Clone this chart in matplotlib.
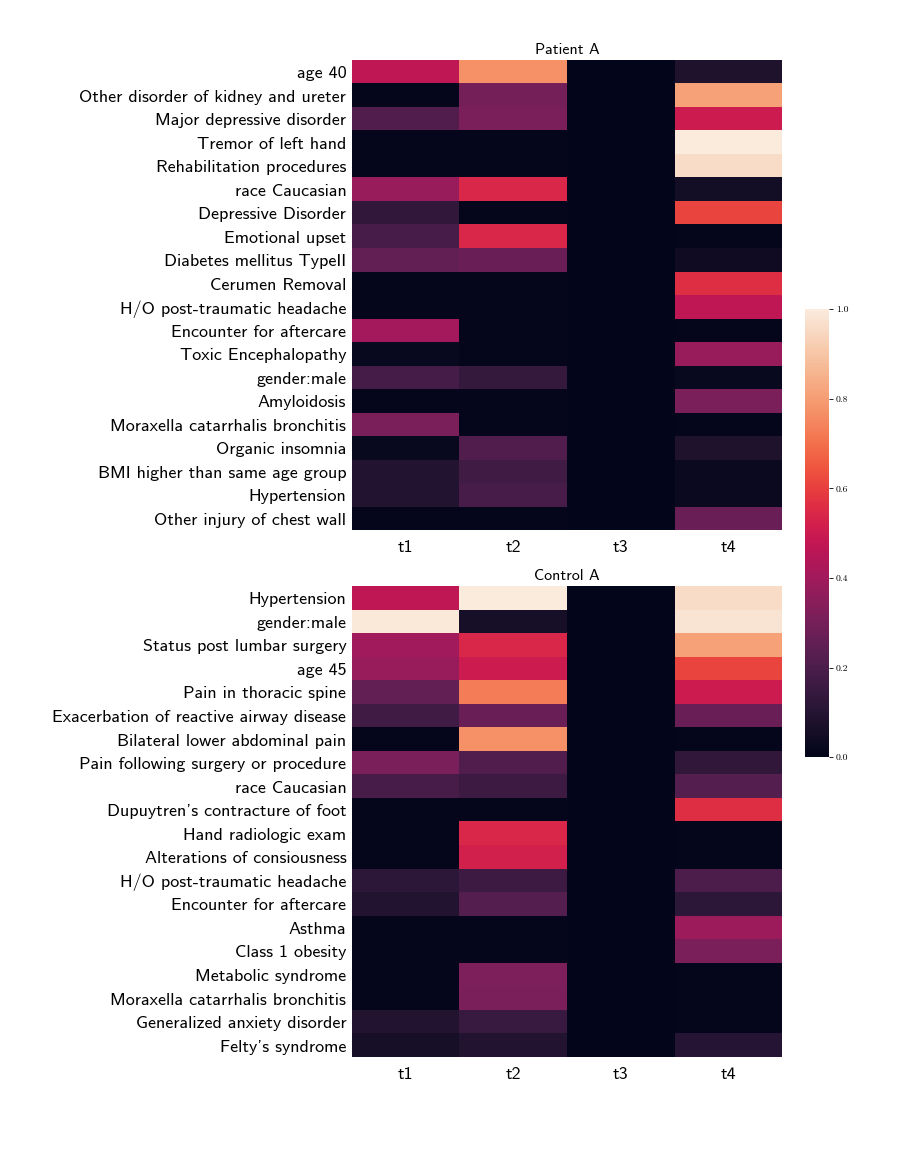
import numpy as np
import matplotlib
matplotlib.use("Agg")
import matplotlib.pyplot as plt
import matplotlib.transforms as mtransforms
import seaborn as sns

times = ["t1", "t2", "t3", "t4"]

patient_labels = [
    "age 40", "Other disorder of kidney and ureter", "Major depressive disorder",
    "Tremor of left hand", "Rehabilitation procedures", "race Caucasian",
    "Depressive Disorder", "Emotional upset", "Diabetes mellitus TypeII",
    "Cerumen Removal", "H/O post-traumatic headache", "Encounter for aftercare",
    "Toxic Encephalopathy", "gender:male", "Amyloidosis",
    "Moraxella catarrhalis bronchitis", "Organic insomnia",
    "BMI higher than same age group", "Hypertension", "Other injury of chest wall",
]
patient_t1 = [0.47, 0.01, 0.21, 0.01, 0.01, 0.38, 0.13, 0.19, 0.25, 0.01,
              0.01, 0.41, 0.02, 0.18, 0.01, 0.31, 0.02, 0.09, 0.09, 0.01]
patient_t2 = [0.77, 0.30, 0.31, 0.01, 0.01, 0.54, 0.01, 0.54, 0.27, 0.01,
              0.01, 0.01, 0.01, 0.14, 0.01, 0.01, 0.21, 0.17, 0.19, 0.01]
patient_t3 = [0.0] * 20
patient_t4 = [0.08, 0.81, 0.50, 1.00, 0.96, 0.05, 0.61, 0.01, 0.04, 0.56,
              0.47, 0.01, 0.38, 0.02, 0.31, 0.01, 0.08, 0.03, 0.03, 0.27]

control_labels = [
    "Hypertension", "gender:male", "Status post lumbar surgery", "age 45",
    "Pain in thoracic spine", "Exacerbation of reactive airway disease",
    "Bilateral lower abdominal pain", "Pain following surgery or procedure",
    "race Caucasian", "Dupuytren's contracture of foot", "Hand radiologic exam",
    "Alterations of consiousness", "H/O post-traumatic headache",
    "Encounter for aftercare", "Asthma", "Class 1 obesity", "Metabolic syndrome",
    "Moraxella catarrhalis bronchitis", "Generalized anxiety disorder",
    "Felty's syndrome",
]
control_t1 = [0.47, 0.99, 0.40, 0.38, 0.25, 0.17, 0.01, 0.31, 0.19, 0.01,
              0.01, 0.01, 0.12, 0.09, 0.01, 0.01, 0.01, 0.01, 0.09, 0.06]
control_t2 = [1.00, 0.06, 0.54, 0.50, 0.73, 0.27, 0.77, 0.21, 0.16, 0.01,
              0.54, 0.52, 0.16, 0.22, 0.01, 0.01, 0.32, 0.31, 0.15, 0.09]
control_t3 = [0.0] * 20
control_t4 = [0.96, 0.98, 0.81, 0.61, 0.50, 0.27, 0.01, 0.13, 0.22, 0.56,
              0.01, 0.01, 0.20, 0.12, 0.39, 0.31, 0.01, 0.01, 0.01, 0.10]

cbar_ticks = [0.0, 0.2, 0.4, 0.6, 0.8, 1.0]

SANS = "cmss10"
SERIF = "cmr10"

fig = plt.figure(figsize=(9, 11.49), dpi=100)
fig.patch.set_facecolor("white")

ax1 = fig.add_axes([0.391, 0.5387, 0.478, 0.4091])
ax2 = fig.add_axes([0.391, 0.0801, 0.478, 0.4099])
cax = fig.add_axes([0.894, 0.341, 0.027, 0.390])

pdata = np.array([patient_t1, patient_t2, patient_t3, patient_t4]).T
cdata = np.array([control_t1, control_t2, control_t3, control_t4]).T

sns.heatmap(pdata, ax=ax1, cmap="rocket", vmin=0, vmax=1, cbar=True, cbar_ax=cax,
            xticklabels=times, yticklabels=patient_labels)
sns.heatmap(cdata, ax=ax2, cmap="rocket", vmin=0, vmax=1, cbar=False,
            xticklabels=times, yticklabels=control_labels)

shift = mtransforms.ScaledTranslation(0, -2 / 100, fig.dpi_scale_trans)
for ax, title in [(ax1, "Patient A"), (ax2, "Control A")]:
    ax.set_title(title, fontfamily=SANS, fontsize=11.5, pad=4)
    ax.tick_params(axis="y", length=0, pad=4)
    ax.tick_params(axis="x", length=0, pad=7)
    for lab in ax.get_yticklabels():
        lab.set_fontfamily(SANS)
        lab.set_fontsize(13)
        lab.set_rotation(0)
        lab.set_transform(lab.get_transform() + shift)
    for lab in ax.get_xticklabels():
        lab.set_fontfamily(SANS)
        lab.set_fontsize(13)
        lab.set_rotation(0)

cax.set_yticks(cbar_ticks)
cax.set_yticklabels([f"{t:.1f}" for t in cbar_ticks], fontfamily=SERIF, fontsize=7)
cax.tick_params(axis="y", length=3, width=0.6, pad=2)

fig.savefig("out.png", dpi=100, facecolor="white")
